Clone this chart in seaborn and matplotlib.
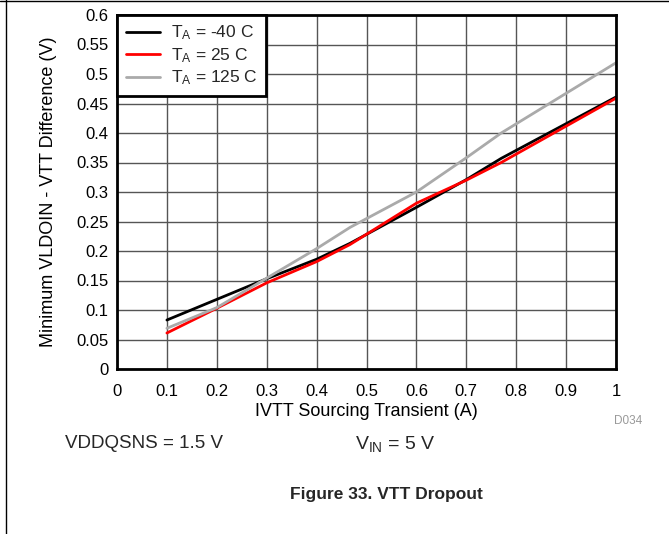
import matplotlib
matplotlib.use("Agg")
import matplotlib.pyplot as plt
import seaborn as sns
import pandas as pd
from matplotlib.lines import Line2D

sns.set_theme(style="white")
plt.rcParams['font.family'] = ['Liberation Sans', 'DejaVu Sans']
plt.rcParams['mathtext.fontset'] = 'custom'
plt.rcParams['mathtext.rm'] = 'Liberation Sans'
plt.rcParams['mathtext.it'] = 'Liberation Sans'

# Data
current_a = [0.1, 0.2, 0.3, 0.4, 0.467, 0.6, 0.7, 0.77, 1.0]
v_m40 = [0.083, 0.118, 0.153, 0.186, 0.213, 0.274, 0.321, 0.357, 0.461]
v_25 = [0.061, 0.103, 0.146, 0.182, 0.211, 0.281, 0.320, 0.350, 0.459]
v_125 = [0.069, 0.104, 0.154, 0.204, 0.240, 0.300, 0.358, 0.400, 0.519]
series_labels = [r"T$_\mathregular{A}$ = -40 C", r"T$_\mathregular{A}$ = 25 C", r"T$_\mathregular{A}$ = 125 C"]
colors = ["#000000", "#ff0000", "#aaaaaa"]
x_ticks = [0, 0.1, 0.2, 0.3, 0.4, 0.5, 0.6, 0.7, 0.8, 0.9, 1]
x_ticklabels = ["0", "0.1", "0.2", "0.3", "0.4", "0.5", "0.6", "0.7", "0.8", "0.9", "1"]
y_ticks = [0, 0.05, 0.1, 0.15, 0.2, 0.25, 0.3, 0.35, 0.4, 0.45, 0.5, 0.55, 0.6]
y_ticklabels = ["0", "0.05", "0.1", "0.15", "0.2", "0.25", "0.3", "0.35", "0.4", "0.45", "0.5", "0.55", "0.6"]

rows = []
for lab, vals in zip(series_labels, [v_m40, v_25, v_125]):
    for x, y in zip(current_a, vals):
        rows.append({"I": x, "V": y, "T": lab})
df = pd.DataFrame(rows)

fig = plt.figure(figsize=(6.69, 5.34), dpi=100)
ax = fig.add_axes([117/669, 1-369/534, (616-117)/669, (369-15)/534])

sns.lineplot(data=df, x="I", y="V", hue="T", hue_order=series_labels,
             palette=colors, linewidth=2, ax=ax, legend=False, estimator=None, sort=False)

ax.set_xlim(0, 1)
ax.set_ylim(0, 0.6)
ax.set_xticks(x_ticks)
ax.set_xticklabels(x_ticklabels)
ax.set_yticks(y_ticks)
ax.set_yticklabels(y_ticklabels)
ax.tick_params(axis='both', labelsize=12, length=0, colors='#000000')
ax.tick_params(axis='x', pad=11)
ax.tick_params(axis='y', pad=6)
ax.grid(True, color='#555555', linewidth=1)
ax.set_axisbelow(True)
for sp in ax.spines.values():
    sp.set_visible(True)
    sp.set_color('black')
    sp.set_linewidth(2)
ax.set_xlabel("IVTT Sourcing Transient (A)", fontsize=13, labelpad=3, color='black')
ax.set_ylabel("Minimum VLDOIN - VTT Difference (V)", fontsize=13, labelpad=14, color='black')

handles = [Line2D([0], [0], color=c, lw=2) for c in colors]
leg = ax.legend(handles, series_labels, loc='upper left', fontsize=12.5,
                frameon=True, fancybox=False, borderaxespad=0, handlelength=2.0,
                labelspacing=0.22, borderpad=0.5, handletextpad=0.6)
leg.get_frame().set_edgecolor('black')
leg.get_frame().set_linewidth(2)
leg.get_frame().set_alpha(1)

fig.text(628/669, 1-421/534, "D034", fontsize=8.5, color='#999999', ha='center', va='center')
fig.text(65/669, 1-444/534, "VDDQSNS = 1.5 V", fontsize=13.5, ha='left', va='center')
fig.text(355/669, 1-444/534, r"V$_\mathregular{IN}$ = 5 V", fontsize=14, ha='left', va='center')
fig.text(386/669, 1-494/534, "Figure 33. VTT Dropout", fontsize=12.5, fontweight='bold', ha='center', va='center')

# page frame lines (top and left)
fig.add_artist(Line2D([0, 1], [1-1/534, 1-1/534], color='black', lw=1, transform=fig.transFigure))
fig.add_artist(Line2D([5.5/669, 5.5/669], [0, 1], color='black', lw=1, transform=fig.transFigure))

fig.savefig("out.png", dpi=100)
